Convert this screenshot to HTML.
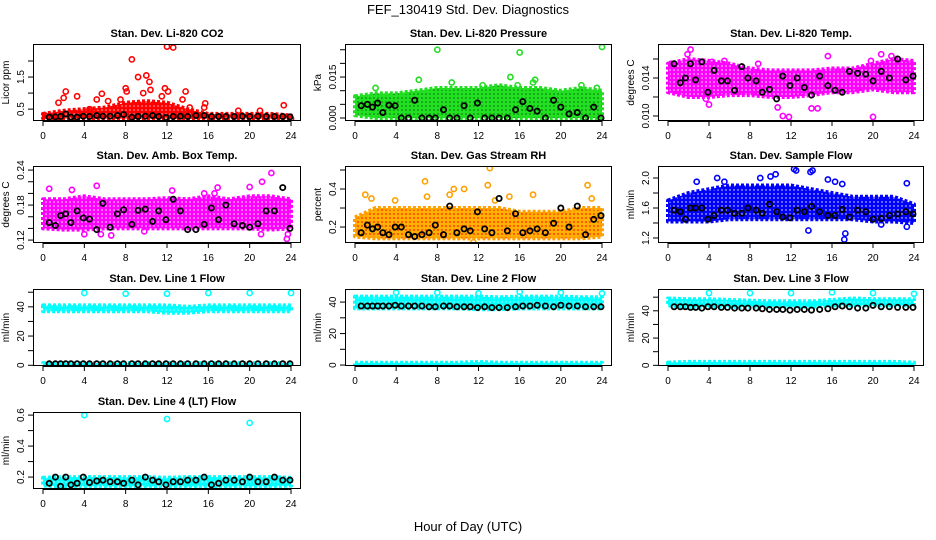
<!DOCTYPE html>
<html><head><meta charset="utf-8"><title>FEF_130419 Std. Dev. Diagnostics</title>
<style>
html,body{margin:0;padding:0;background:#fff;}
svg{display:block;font-family:"Liberation Sans",Arial,sans-serif;}
</style></head>
<body>
<svg id="chart" width="936" height="540" viewBox="0 0 936 540">
<defs>
<pattern id="pat-red" width="4" height="4" patternUnits="userSpaceOnUse"><rect width="4" height="4" fill="#ff0000"/><circle cx="2" cy="2" r="0.8" fill="#ffb0b0"/></pattern>
<pattern id="pat-green" width="4" height="4" patternUnits="userSpaceOnUse"><rect width="4" height="4" fill="#22e022"/><circle cx="2" cy="2" r="0.8" fill="#0a6a0a"/></pattern>
<pattern id="pat-magenta" width="4" height="4" patternUnits="userSpaceOnUse"><rect width="4" height="4" fill="#ff00ff"/><circle cx="2" cy="2" r="0.8" fill="#ffffff"/></pattern>
<pattern id="pat-orange" width="4" height="4" patternUnits="userSpaceOnUse"><rect width="4" height="4" fill="#ffb000"/><circle cx="2" cy="2" r="0.9" fill="#ff2000"/></pattern>
<pattern id="pat-blue" width="4" height="4" patternUnits="userSpaceOnUse"><rect width="4" height="4" fill="#0000ff"/><circle cx="2" cy="2" r="0.7" fill="#ffffff"/></pattern>
<pattern id="pat-cyan" width="4" height="4" patternUnits="userSpaceOnUse"><rect width="4" height="4" fill="#00ffff"/><circle cx="2" cy="2" r="0.6" fill="#ffffff"/></pattern>
</defs>
<text x="468" y="14" text-anchor="middle" font-size="13">FEF_130419  Std. Dev. Diagnostics</text>
<text x="468" y="531" text-anchor="middle" font-size="13">Hour of Day (UTC)</text>
</svg>
<script>
// shared data
const xTicks = [0,4,8,12,16,20,24];
const bandHours = [0,2,4,6,8,10,12,14,16,18,20,22,24];
const blkHours = [0.6,1.2,1.7,2.2,2.7,3.3,3.9,4.5,5.2,5.8,6.5,7.2,7.8,8.6,9.2,9.9,10.6,11.2,11.9,12.6,13.3,14,14.8,15.6,16.3,17,17.7,18.5,19.3,20,20.8,21.6,22.4,23.2,23.9];

// Panel 1: CO2
const co2Lo = [0.22,0.2,0.22,0.2,0.2,0.2,0.2,0.2,0.2,0.22,0.2,0.2,0.2];
const co2Hi = [0.35,0.45,0.5,0.55,0.7,0.75,0.7,0.5,0.35,0.35,0.35,0.35,0.3];
const co2Pts = [[1.5,0.7],[2,0.85],[2.2,1.05],[3.3,0.9],[5.2,0.8],[5.7,0.98],[6.3,0.75],[7.5,0.8],[8,1.15],[8.1,1.05],[8.6,2.05],[9.2,1.5],[9.7,1.0],[10,1.55],[10.3,1.35],[10.4,1.1],[11.8,1.15],[12,2.45],[12.6,2.42],[12.1,1.05],[11.5,0.9],[13.8,1.05],[13.5,0.8],[15.7,0.68],[15.6,0.55],[18.9,0.45],[21,0.45],[23.3,0.62],[14.2,0.55],[4.5,0.5],[0.2,0.3],[24,0.2]];
const co2Blk = [0.25,0.26,0.27,0.35,0.25,0.25,0.28,0.27,0.3,0.28,0.28,0.3,0.33,0.25,0.27,0.28,0.3,0.27,0.24,0.27,0.28,0.27,0.3,0.3,0.27,0.27,0.27,0.27,0.28,0.27,0.28,0.27,0.27,0.27,0.26];
// Panel 2: Pressure
const prsLo = [0.001,0,0,0,0,0,0,0,0,0,0,0,0];
const prsHi = [0.008,0.009,0.009,0.010,0.011,0.011,0.011,0.012,0.011,0.011,0.010,0.011,0.010];
const prsPts = [[8,0.025],[16,0.024],[24,0.026],[6.2,0.014],[9.4,0.013],[15.1,0.015],[17.5,0.014],[17.3,0.013],[15.8,0.012],[12.4,0.012],[22,0.012],[0.5,0.004],[2,0.011],[23.5,0.011]];
const prsBlk = [0.0045,0.005,0.004,0.0055,0.002,0.0047,0.0045,0,0,0.0065,0,0,0,0.003,0,0,0.0045,0,0.0055,0,0,0,0,0.003,0.006,0.0035,0.0025,0,0.0065,0.004,0.0015,0.002,0,0.004,0];
// Panel 3: Li-820 Temp
const tmpLo = [0.0125,0.012,0.012,0.0122,0.0122,0.012,0.012,0.0122,0.0125,0.0125,0.0128,0.0125,0.0125];
const tmpHi = [0.0155,0.016,0.0158,0.0155,0.015,0.0148,0.0148,0.0148,0.015,0.015,0.0155,0.016,0.0158];
const tmpPts = [[0.3,0.0155],[1.9,0.0165],[2.2,0.017],[4.3,0.0157],[5.5,0.0158],[8.8,0.0155],[11.2,0.01],[11.8,0.0099],[14,0.0108],[14.6,0.0108],[15.6,0.0163],[19.8,0.0158],[20,0.0099],[20.8,0.0165],[21.8,0.0163],[4,0.0112],[3.7,0.0118],[10.7,0.0109]];
const tmpBlk = [0.0155,0.0135,0.014,0.0155,0.0138,0.0157,0.0125,0.0148,0.0137,0.0137,0.0127,0.0152,0.014,0.0137,0.0125,0.0128,0.0118,0.0142,0.0132,0.014,0.013,0.0122,0.0142,0.0132,0.0127,0.0125,0.0147,0.0145,0.0144,0.0137,0.0147,0.014,0.016,0.0138,0.0142];
// Panel 4: Amb Box Temp
const ambLo = [0.14,0.138,0.138,0.14,0.14,0.14,0.14,0.14,0.14,0.14,0.14,0.138,0.14];
const ambHi = [0.19,0.19,0.195,0.19,0.19,0.19,0.192,0.19,0.195,0.19,0.195,0.195,0.19];
const ambPts = [[0.6,0.208],[2.8,0.206],[5.2,0.213],[4,0.13],[5.6,0.13],[12.5,0.205],[15.6,0.2],[16.6,0.2],[16.9,0.21],[20,0.211],[21.2,0.22],[22.1,0.235],[23.6,0.122],[23.7,0.13],[6.6,0.128],[9.8,0.135],[21.1,0.13]];
const ambBlk = [0.15,0.145,0.162,0.165,0.15,0.17,0.158,0.156,0.138,0.183,0.142,0.165,0.172,0.147,0.171,0.173,0.152,0.17,0.155,0.19,0.17,0.138,0.138,0.147,0.175,0.155,0.18,0.148,0.145,0.142,0.148,0.17,0.17,0.21,0.14];
// Panel 5: Gas stream RH
const rhLo = [0.15,0.14,0.14,0.14,0.14,0.14,0.14,0.14,0.14,0.14,0.14,0.14,0.15];
const rhHi = [0.25,0.3,0.3,0.3,0.3,0.3,0.3,0.3,0.28,0.28,0.28,0.3,0.3];
const rhPts = [[1,0.37],[1.6,0.35],[6.8,0.44],[7,0.36],[9.2,0.37],[9.6,0.4],[10.6,0.4],[13.1,0.51],[12.9,0.42],[15,0.36],[17.3,0.37],[22.6,0.42],[11.5,0.12],[23,0.35],[3.9,0.34],[13.6,0.34]];
const rhBlk = [0.17,0.21,0.19,0.2,0.17,0.16,0.2,0.2,0.16,0.15,0.16,0.17,0.21,0.16,0.31,0.17,0.19,0.18,0.28,0.19,0.17,0.35,0.18,0.27,0.17,0.18,0.19,0.17,0.22,0.3,0.2,0.31,0.16,0.24,0.26];
// Panel 6: Sample flow
const sfLo = [1.42,1.42,1.42,1.45,1.45,1.45,1.45,1.45,1.45,1.45,1.42,1.42,1.4];
const sfHi = [1.7,1.8,1.85,1.9,1.9,1.9,1.9,1.85,1.8,1.75,1.75,1.75,1.65];
const sfPts = [[4.8,2.0],[5.5,1.95],[9,2.0],[10,2.02],[10.5,2.05],[12.3,2.12],[12.5,2.1],[13.9,2.08],[14.1,2.1],[15.6,1.98],[16.3,1.95],[17,1.92],[17.2,1.18],[17.3,1.26],[13.7,1.3],[23.3,1.93],[20.8,1.38],[23.3,1.35],[2.8,1.95]];
const sfBlk = [1.57,1.55,1.45,1.6,1.6,1.6,1.45,1.5,1.57,1.57,1.53,1.53,1.6,1.57,1.53,1.65,1.55,1.48,1.47,1.57,1.55,1.62,1.55,1.5,1.5,1.58,1.48,1.57,1.55,1.45,1.46,1.5,1.52,1.55,1.52];
// Panel 7: Line 1 flow
const l1Lo = [37,37,37,37,37,37,36,36,37,37,37,37,37];
const l1Hi = [41,41,41,41,41,41,41,40,41,41,41,41,41];
const l1Lo2 = [0,0,0,0,0,0,0,0,0,0,0,0,0];
const l1Hi2 = [1.5,1.5,1.5,1.5,1.5,1.5,1.5,1.5,1.5,1.5,1.5,1.5,1.5];
const l1Pts = [[4,49.5],[8,49],[12,49],[16,49.5],[20,49.5],[24,49.5]];
const l1Blk = [1,1,1,1,1,1,1,1,1,1,1,1,1,1,1,1,1,1,1,1,1,1,1,1,1,1,1,1,1,1,1,1,1,1,1];
// Panel 8: Line 2 flow
const l2Lo = [36,36,36,36,36,36,35.5,35.5,36,36,36,36,36];
const l2Hi = [43.5,43.5,43.5,43.5,43.5,43.5,43.5,43,43.5,43.5,43.5,43,43];
const l2Lo2 = [0,0,0,0,0,0,0,0,0,0,0,0,0];
const l2Hi2 = [1.5,1.5,1.5,1.5,1.5,1.5,2,1.5,1.5,1.5,1.5,1.5,1.5];
const l2Pts = [[4,46],[8,46],[12,45.5],[16,46.5],[20,46],[24,45.5]];
const l2Blk = [37.5,37.5,37.5,37.5,37.5,37.5,38,37.5,37.5,37.5,37.5,37,37,37.5,37.5,37,37,37,36.5,37,36.5,36.5,36.5,37,37.5,37.5,38,37.5,37,38,37.5,37.5,37,37,37];
// Panel 9: Line 3 flow
const l3Lo = [44,43,43,43,43,43,43,43,44,44,44,44,44];
const l3Hi = [49,48.5,48.5,48,47.5,47,47,47,48,49,48.5,48.5,48.5];
const l3Lo2 = [0,0,0,0,0,0,0,0,0,0,0,0,0];
const l3Hi2 = [2,2.5,2.5,2.5,2.5,2.5,2.5,2.5,2.5,2.5,2.5,2.5,2];
const l3Pts = [[4,53],[8,53],[12,53],[16,53.5],[20,53],[24,52.5]];
const l3Blk = [43,43,43,42.5,42.5,42,43,43,42.5,42.5,42,42,42,42,41.5,41,41,41,40.5,41,41,40.5,41,41.5,43,43.5,43,42,42,44,43,43,42.5,42.5,42.5];
// Panel 10: Line 4 flow
const l4Lo = [0.145,0.14,0.14,0.14,0.14,0.14,0.14,0.14,0.14,0.14,0.14,0.14,0.145];
const l4Hi = [0.195,0.2,0.2,0.2,0.2,0.2,0.195,0.2,0.2,0.2,0.2,0.2,0.195];
const l4Pts = [[4,0.6],[12,0.575],[20,0.55]];
const l4Blk = [0.16,0.2,0.14,0.2,0.15,0.16,0.2,0.165,0.175,0.18,0.17,0.17,0.16,0.18,0.15,0.2,0.18,0.17,0.15,0.17,0.17,0.18,0.18,0.2,0.15,0.16,0.18,0.18,0.17,0.2,0.17,0.17,0.2,0.18,0.18];

const cols = [[33,301],[345,612],[658,924]];
const rows = [44,166,289,412];
const H = 77;

const panels = [
 {name:'co2',title:'Stan. Dev. Li-820 CO2',yl:'Licor ppm',col:'#ff0000',pat:'pat-red',ylim:[0.13,2.53],ticks:[0.5,1.0,1.5,2.0],labels:['0.5','','1.5',''],bands:[[co2Lo,co2Hi]],pts:co2Pts,blk:co2Blk},
 {name:'pressure',title:'Stan. Dev. Li-820 Pressure',yl:'kPa',col:'#22dd22',pat:'pat-green',ylim:[-0.0011,0.0271],ticks:[0,0.005,0.01,0.015,0.02,0.025],labels:['0.000','','','0.015','',''],bands:[[prsLo,prsHi]],pts:prsPts,blk:prsBlk},
 {name:'li820-temp',title:'Stan. Dev. Li-820 Temp.',yl:'degrees C',col:'#ff00ff',pat:'pat-magenta',ylim:[0.00947,0.01758],ticks:[0.010,0.012,0.014,0.016],labels:['0.010','','0.014',''],bands:[[tmpLo,tmpHi]],pts:tmpPts,blk:tmpBlk},
 {name:'amb-box-temp',title:'Stan. Dev. Amb. Box Temp.',yl:'degrees C',col:'#ff00ff',pat:'pat-magenta',ylim:[0.115,0.247],ticks:[0.12,0.14,0.16,0.18,0.20,0.22,0.24],labels:['0.12','','','0.18','','','0.24'],bands:[[ambLo,ambHi]],pts:ambPts,blk:ambBlk},
 {name:'gas-stream-rh',title:'Stan. Dev. Gas Stream RH',yl:'percent',col:'#ffa000',pat:'pat-orange',ylim:[0.116,0.521],ticks:[0.2,0.3,0.4,0.5],labels:['0.2','','0.4',''],bands:[[rhLo,rhHi]],pts:rhPts,blk:rhBlk},
 {name:'sample-flow',title:'Stan. Dev. Sample Flow',yl:'ml/min',col:'#0000ff',pat:'pat-blue',ylim:[1.133,2.16],ticks:[1.2,1.4,1.6,1.8,2.0],labels:['1.2','','1.6','','2.0'],bands:[[sfLo,sfHi]],pts:sfPts,blk:sfBlk},
 {name:'line1-flow',title:'Stan. Dev. Line 1 Flow',yl:'ml/min',col:'#00ffff',pat:'pat-cyan',ylim:[-0.5,52.2],ticks:[0,10,20,30,40,50],labels:['0','','20','','40',''],bands:[[l1Lo,l1Hi],[l1Lo2,l1Hi2]],pts:l1Pts,blk:l1Blk},
 {name:'line2-flow',title:'Stan. Dev. Line 2 Flow',yl:'ml/min',col:'#00ffff',pat:'pat-cyan',ylim:[-0.6,48.3],ticks:[0,10,20,30,40],labels:['0','','20','','40'],bands:[[l2Lo,l2Hi],[l2Lo2,l2Hi2]],pts:l2Pts,blk:l2Blk},
 {name:'line3-flow',title:'Stan. Dev. Line 3 Flow',yl:'ml/min',col:'#00ffff',pat:'pat-cyan',ylim:[-0.5,56],ticks:[0,10,20,30,40,50],labels:['0','','20','','40',''],bands:[[l3Lo,l3Hi],[l3Lo2,l3Hi2]],pts:l3Pts,blk:l3Blk},
 {name:'line4-flow',title:'Stan. Dev. Line 4 (LT) Flow',yl:'ml/min',col:'#00ffff',pat:'pat-cyan',ylim:[0.123,0.62],ticks:[0.2,0.3,0.4,0.5,0.6],labels:['0.2','','0.4','','0.6'],bands:[[l4Lo,l4Hi]],pts:l4Pts,blk:l4Blk}
];

const NS='http://www.w3.org/2000/svg';
const svg=document.getElementById('chart');
function mk(tag,attrs,parent){const e=document.createElementNS(NS,tag);for(const k in attrs)e.setAttribute(k,attrs[k]);parent.appendChild(e);return e;}

panels.forEach((p,i)=>{
  const c=cols[i%3], top=rows[Math.floor(i/3)], bot=top+H;
  const x0=c[0], x1=c[1];
  const xs=h=>x0+10+(h/24)*(x1-x0-20);
  const ys=v=>bot-(v-p.ylim[0])/(p.ylim[1]-p.ylim[0])*H;
  const g=mk('g',{},svg);
  
  
  const cp=mk('clipPath',{id:'clip'+i},g);
  mk('rect',{x:x0,y:top,width:x1-x0,height:H},cp);
  const plot=mk('g',{'clip-path':'url(#clip'+i+')'},g);
  
  
  p.bands.forEach((b)=>{
    const lo=b[0], hi=b[1];
    let d='';
    bandHours.forEach((h,k)=>{d+=(k?'L':'M')+xs(h).toFixed(1)+' '+ys(hi[k]).toFixed(1);});
    for(let k=bandHours.length-1;k>=0;k--){d+='L'+xs(bandHours[k]).toFixed(1)+' '+ys(lo[k]).toFixed(1);}
    const band=mk('path',{d:d+'Z',fill:'url(#'+p.pat+')',stroke:p.col,'stroke-width':4,'stroke-linejoin':'round','stroke-dasharray':'3 2'},plot);
    
    
  });
  p.pts.forEach(pt=>{
    const c1=mk('circle',{cx:xs(pt[0]),cy:ys(pt[1]),r:2.6,fill:'none',stroke:p.col,'stroke-width':1.6},plot);
    
    
  });
  blkHours.forEach((h,k)=>{
    const c2=mk('circle',{cx:xs(h),cy:ys(p.blk[k]),r:2.6,fill:'none',stroke:'#000','stroke-width':1.8},plot);
    
    
  });
  const box=mk('rect',{x:x0+0.5,y:top+0.5,width:x1-x0-1,height:H-1,fill:'none',stroke:'#000','stroke-width':1},g);
  
  
  const t=mk('text',{x:(x0+x1)/2,y:top-7,'text-anchor':'middle','font-size':11,'font-weight':'bold'},g);
  t.textContent=p.title;
  
  
  mk('line',{x1:xs(0),x2:xs(24),y1:bot+0.5,y2:bot+0.5,stroke:'#000'},g);
  xTicks.forEach(h=>{
    mk('line',{x1:xs(h),x2:xs(h),y1:bot,y2:bot+5,stroke:'#000'},g);
    const tl=mk('text',{x:xs(h),y:bot+18,'text-anchor':'middle','font-size':10},g);
    tl.textContent=h;
    
    
  });
  mk('line',{x1:x0+0.5,x2:x0+0.5,y1:ys(p.ticks[0]),y2:ys(p.ticks[p.ticks.length-1]),stroke:'#000'},g);
  p.ticks.forEach((v,k)=>{
    const y=ys(v);
    mk('line',{x1:x0-5,x2:x0,y1:y,y2:y,stroke:'#000'},g);
    if(p.labels[k]){
      const yl=mk('text',{x:0,y:0,'text-anchor':'middle','font-size':10,transform:'translate('+(x0-9)+','+y+') rotate(-90)'},g);
      yl.textContent=p.labels[k];
      
      
    }
  });
  const yt=mk('text',{x:0,y:0,'text-anchor':'middle','font-size':10,transform:'translate('+(x0-24)+','+(top+H/2)+') rotate(-90)'},g);
  yt.textContent=p.yl;
  
  
});
</script>
</body></html>
